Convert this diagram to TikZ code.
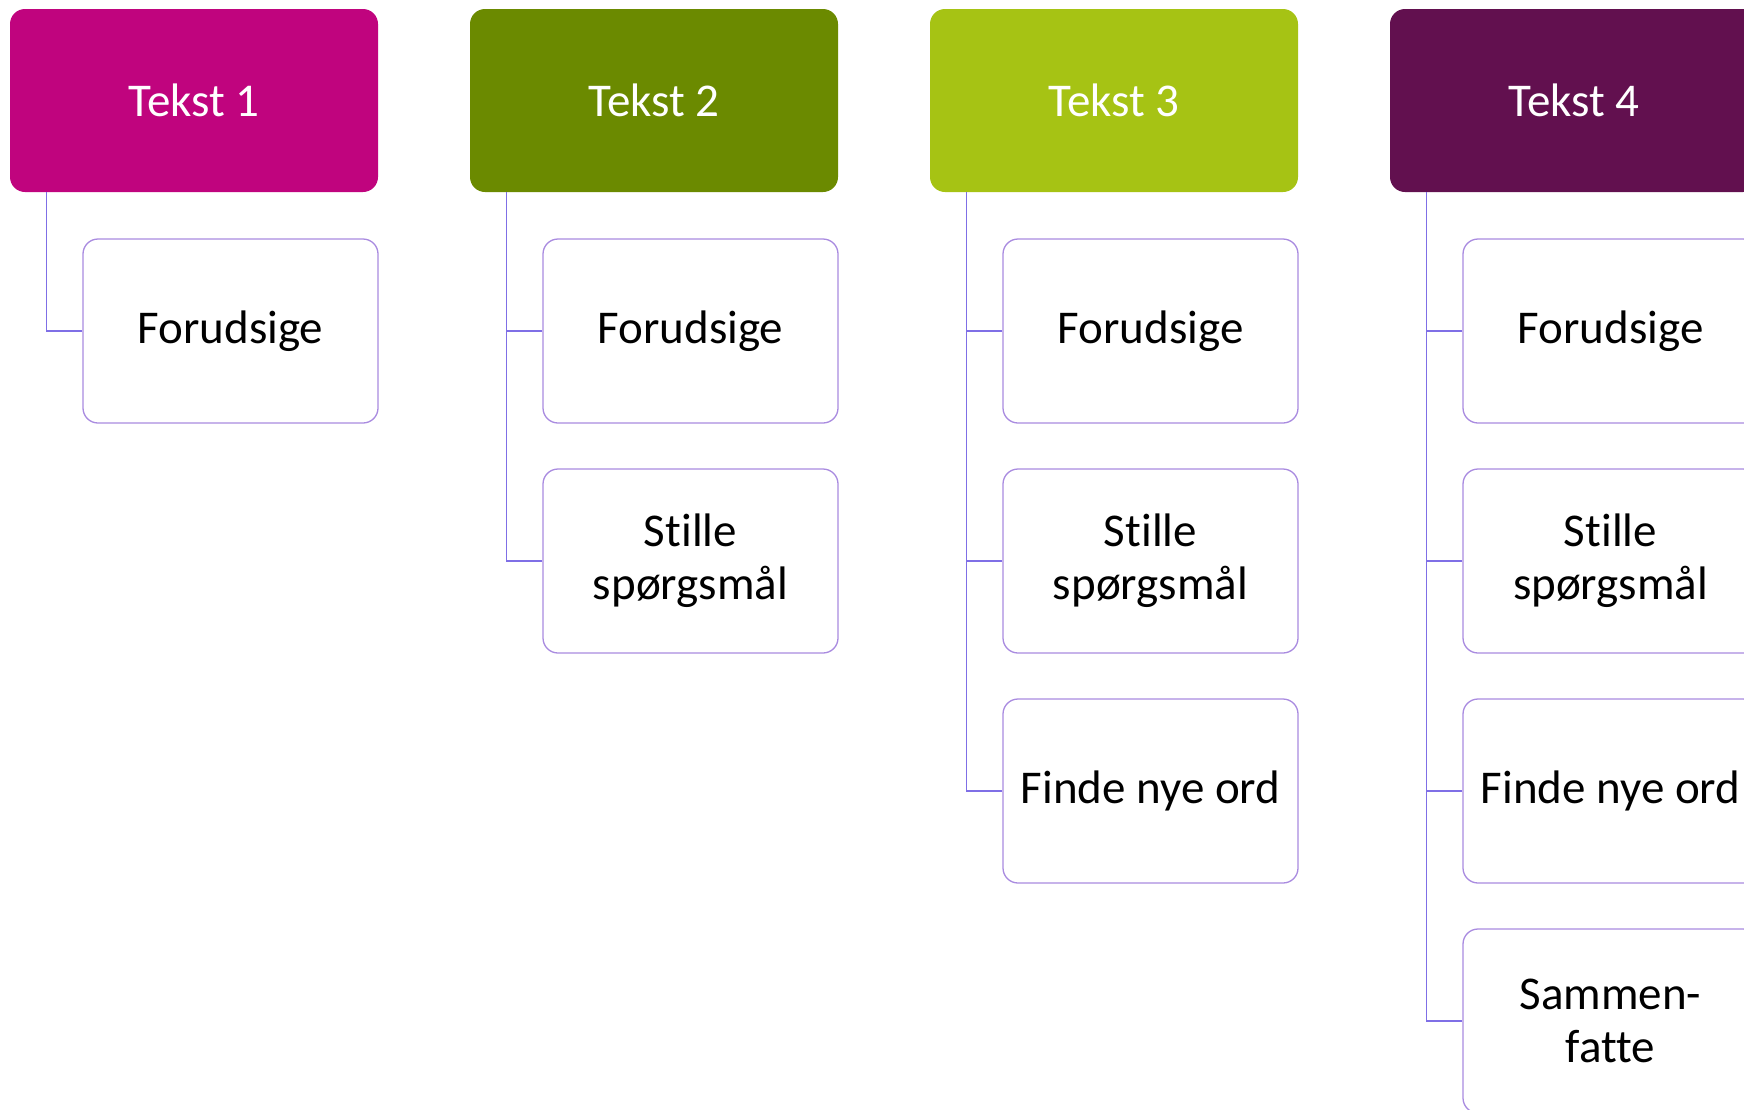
\documentclass[tikz,border=0pt]{standalone}
\usepackage{fontspec}
\setmainfont{Carlito}[Ligatures=NoCommon]
\definecolor{tekstA}{HTML}{C0047E}
\definecolor{tekstB}{HTML}{6B8A00}
\definecolor{tekstC}{HTML}{A6C314}
\definecolor{tekstD}{HTML}{62104F}
\definecolor{linje}{HTML}{7F6FE6}
\definecolor{kant}{HTML}{A98BE0}

\begin{document}
\begin{tikzpicture}
        [x=1pt,y=-1pt,
         head/.style={rectangle,rounded corners=15pt,minimum width=368pt,minimum height=183pt,inner sep=0,text=white,font=\fontsize{47}{57}\selectfont},
         sub/.style={rectangle,rounded corners=15pt,draw=kant,line width=1.3pt,fill=white,minimum width=295pt,minimum height=184pt,inner sep=0,align=center,font=\fontsize{47}{53}\selectfont},
         gren/.style={draw=linje,line width=1.3pt}]

        \useasboundingbox (0,0) rectangle (1744,1109);

        \node[head,fill=tekstA] (h1) at (194, 100.5) {Tekst 1};
        \node[head,fill=tekstB] (h2) at (654, 100.5) {Tekst 2};
        \node[head,fill=tekstC] (h3) at (1114, 100.5) {Tekst 3};
        \node[head,fill=tekstD] (h4) at (1574, 100.5) {Tekst 4};

        \node[sub] (c11) at (230.5, 331) {Forudsige};

        \node[sub] (c21) at (690.5, 331) {Forudsige};
        \node[sub] (c22) at (690.5, 561) {Stille\\spørgsmål};

        \node[sub] (c31) at (1150.5, 331) {Forudsige};
        \node[sub] (c32) at (1150.5, 561) {Stille\\spørgsmål};
        \node[sub] (c33) at (1150.5, 791) {Finde nye ord};

        \node[sub] (c41) at (1610.5, 331) {Forudsige};
        \node[sub] (c42) at (1610.5, 561) {Stille\\spørgsmål};
        \node[sub] (c43) at (1610.5, 791) {Finde nye ord};
        \node[sub] (c44) at (1610.5, 1021) {Sammen-\\fatte};

        \draw[gren] ([xshift=37pt]h1.south west) |- (c11.west);

        \draw[gren] ([xshift=37pt]h2.south west) |- (c21.west);
        \draw[gren] ([xshift=37pt]h2.south west) |- (c22.west);

        \draw[gren] ([xshift=37pt]h3.south west) |- (c31.west);
        \draw[gren] ([xshift=37pt]h3.south west) |- (c32.west);
        \draw[gren] ([xshift=37pt]h3.south west) |- (c33.west);

        \draw[gren] ([xshift=37pt]h4.south west) |- (c41.west);
        \draw[gren] ([xshift=37pt]h4.south west) |- (c42.west);
        \draw[gren] ([xshift=37pt]h4.south west) |- (c43.west);
        \draw[gren] ([xshift=37pt]h4.south west) |- (c44.west);
      \end{tikzpicture}
\end{document}
